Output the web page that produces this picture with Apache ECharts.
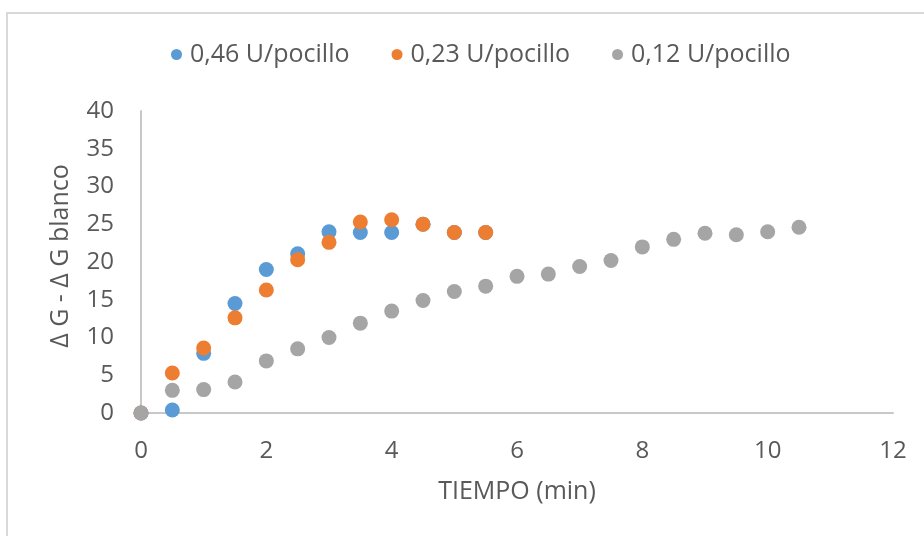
<!DOCTYPE html>
<html>
<head>
<meta charset="utf-8">
<script src="https://cdn.jsdelivr.net/npm/echarts@6/dist/echarts.min.js"></script>
<style>
  html, body { margin: 0; padding: 0; background: #fff; }
  #chart { width: 924px; height: 536px; }
</style>
</head>
<body>
<div id="chart"></div>
<script>
// tiempo (min) y valores
var tiempo46 = [0, 0.5, 1, 1.5, 2, 2.5, 3, 3.5, 4, 4.5, 5, 5.5];
var g46 = [0, 0.4, 7.9, 14.5, 19.0, 21.1, 24.0, 23.9, 23.9, 25.0, 23.9, 23.9];
var tiempo23 = [0, 0.5, 1, 1.5, 2, 2.5, 3, 3.5, 4, 4.5, 5, 5.5];
var g23 = [0, 5.3, 8.6, 12.6, 16.3, 20.3, 22.6, 25.3, 25.6, 25.0, 23.9, 23.9];
var tiempo12 = [0, 0.5, 1, 1.5, 2, 2.5, 3, 3.5, 4, 4.5, 5, 5.5, 6, 6.5, 7, 7.5, 8, 8.5, 9, 9.5, 10, 10.5];
var g12 = [0, 3.0, 3.1, 4.1, 6.9, 8.5, 10.0, 11.9, 13.5, 14.9, 16.1, 16.8, 18.1, 18.4, 19.4, 20.2, 22.0, 23.0, 23.8, 23.6, 24.0, 24.6];

var nombres = ['0,46 U/pocillo', '0,23 U/pocillo', '0,12 U/pocillo'];
var colores = ['#5B9BD5', '#ED7D31', '#A5A5A5'];

function pares(xs, ys) {
	return xs.map(function(x, i){ return [x, ys[i]]; });
}

var fuente = "'Open Sans', 'Liberation Sans', sans-serif";
var series = [pares(tiempo46, g46), pares(tiempo23, g23), pares(tiempo12, g12)].map(function(d, i){
	return { name: nombres[i], type: 'scatter', data: d, symbolSize: 15,
		itemStyle: { color: colores[i], opacity: 1 }, emphasis: { disabled: true } };
});

var option = {
	animation: false,
	textStyle: { fontFamily: fuente },
	graphic: [{ type: 'rect', shape: { x: 7, y: 13, width: 960, height: 560 },
		style: { fill: 'none', stroke: '#D9D9D9', lineWidth: 2 }, silent: true }],
	legend: {
		data: nombres, left: 166, top: 37, itemGap: 42,
		icon: 'circle', itemWidth: 11, itemHeight: 11,
		textStyle: { fontFamily: fuente, fontSize: 25, color: '#595959', padding: [0, 0, 0, 3] }
	},
	grid: { left: 141, top: 111, right: 31, bottom: 123 },
	xAxis: {
		type: 'value', min: 0, max: 12, interval: 2,
		name: 'TIEMPO (min)', nameLocation: 'middle', nameGap: 66,
		nameTextStyle: { fontFamily: fuente, fontSize: 25, color: '#595959' },
		axisLine: { lineStyle: { color: '#C8C8C8', width: 2 } },
		axisTick: { show: false }, splitLine: { show: false },
		axisLabel: { fontFamily: fuente, fontSize: 24, color: '#595959', margin: 26 }
	},
	yAxis: {
		type: 'value', min: 0, max: 40, interval: 5,
		name: 'Δ G - Δ G blanco', nameLocation: 'middle', nameGap: 68,
		nameTextStyle: { fontFamily: fuente, fontSize: 25, color: '#595959', padding: [0, 0, 0, 12] },
		axisLine: { show: true, lineStyle: { color: '#C8C8C8', width: 2 } },
		axisTick: { show: false }, splitLine: { show: false },
		axisLabel: { fontFamily: fuente, fontSize: 24, color: '#595959', margin: 27 }
	},
	series: series
};

echarts.init(document.getElementById('chart')).setOption(option);
</script>
</body>
</html>
